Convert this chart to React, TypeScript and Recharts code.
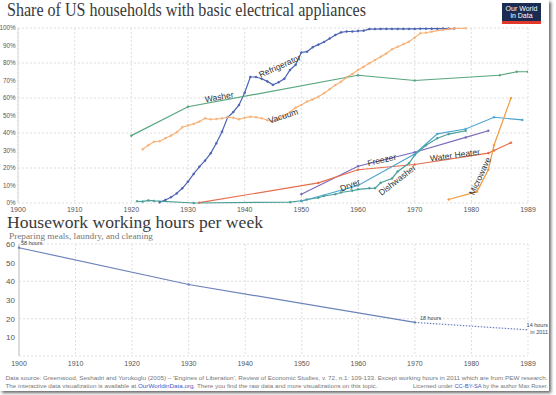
import { LineChart, Line, XAxis, YAxis, CartesianGrid, ReferenceDot } from "recharts";

const decadeTicks = [1900, 1910, 1920, 1930, 1940, 1950, 1960, 1970, 1980, 1990];
const shareTicks = [0, 10, 20, 30, 40, 50, 60, 70, 80, 90, 100];
const hourTicks = [10, 20, 30, 40, 50, 60];

// share of households (%) per appliance
const refrigeratorYears = [
  1925, 1926, 1927, 1928, 1929, 1930, 1931, 1932, 1933, 1934, 1935, 1936, 1937, 1938, 1939, 1940, 1941, 1942,
  1943, 1944, 1945, 1946, 1947, 1948, 1949, 1950, 1951, 1952, 1953, 1954, 1955, 1956, 1957, 1958, 1959, 1960,
  1961, 1962, 1963, 1964, 1965, 1966, 1967, 1968, 1969, 1970, 1971, 1972, 1973, 1974, 1975, 1976, 1977,
];
const refrigeratorShare = [
  0.4, 1.7, 3.3, 5.5, 8.4, 12.2, 16.6, 20.7, 24.2, 28.4, 34.1, 40.7, 49, 52, 56, 63, 72, 72, 71, 69.5, 67.5, 69,
  71, 76, 79, 86, 86.5, 89, 90.5, 92, 94, 96, 97.5, 98, 98, 98.3, 98.5, 99.4, 99.4, 99.5, 99.5, 99.5, 99.5, 99.5,
  99.5, 99.5, 99.6, 99.6, 99.6, 99.6, 99.7, 99.7, 99.7,
];

const vacuumYears = [
  1922, 1923, 1924, 1925, 1926, 1927, 1928, 1929, 1930, 1931, 1932, 1933, 1934, 1935, 1936, 1937, 1938, 1939,
  1940, 1941, 1942, 1943, 1944, 1945, 1946, 1947, 1948, 1949, 1950, 1951, 1952, 1953, 1954, 1955, 1956, 1957,
  1958, 1959, 1960, 1961, 1962, 1963, 1964, 1965, 1966, 1967, 1968, 1969, 1970, 1971, 1972, 1973, 1975, 1976,
  1977, 1979,
];
const vacuumShare = [
  30.7, 33, 35, 35.3, 37, 38.5, 40.4, 43.3, 44.3, 45.2, 46.5, 48.4, 47.8, 48, 48.4, 49, 48.7, 47.8, 48.7, 49.3,
  49, 48.4, 47.3, 46.5, 48, 50, 52, 54.5, 56, 58, 59.2, 60.7, 62.7, 65, 67.4, 69.3, 71.8, 73.7, 76, 77.9, 79.8,
  81.7, 83.6, 85.5, 87.8, 89.3, 90.7, 92.2, 94.5, 97, 97.3, 97.9, 98.9, 99.4, 99.8, 99.8,
];

const washerYears = [1920, 1930, 1960, 1970, 1985, 1988, 1990];
const washerShare = [38.5, 55, 73, 70, 73, 75, 75];

const freezerYears = [1950, 1960, 1965, 1970, 1979, 1983];
const freezerShare = [5, 21, 25, 29, 37.5, 41.3];

const waterHeaterYears = [1932, 1953, 1960, 1970, 1983, 1984, 1987];
const waterHeaterShare = [0.2, 11.5, 19, 22, 28.5, 30, 34.5];

const dryerYears = [1950, 1960, 1970, 1974, 1979, 1984, 1989];
const dryerShare = [1, 10, 28, 39.5, 42.3, 49, 47.5];

const dishwasherYears = [
  1921, 1922, 1923, 1924, 1931, 1948, 1950, 1951, 1953, 1954, 1956, 1957, 1959, 1960, 1962, 1963, 1964, 1966,
  1967, 1969, 1970, 1972, 1974, 1976, 1979,
];
const dishwasherShare = [
  1, 0.8, 1.5, 1.2, 0, 0.5, 1.3, 2, 3, 4, 5, 6, 7, 7.8, 8.4, 8.5, 11.6, 14, 18, 22.7, 27.4, 33, 37, 39.4, 41.3,
];

const microwaveYears = [1976, 1981, 1983, 1984, 1987];
const microwaveShare = [2, 6.5, 19, 33, 60];

// housework hours per week (last value is 2011, drawn at the right edge)
const hoursYears = [1900, 1930, 1970];
const hoursValues = [58, 38.3, 18];
const hoursLaterYears = [1970, 1990];
const hoursLaterValues = [18, 14];

const zip = (xs: number[], ys: number[]) => xs.map((year, i) => ({ year, value: ys[i] }));

const series = [
  { name: "Refrigerator", color: "#4a63b3", data: zip(refrigeratorYears, refrigeratorShare) },
  { name: "Vacuum", color: "#f7b37a", data: zip(vacuumYears, vacuumShare) },
  { name: "Washer", color: "#57a67e", data: zip(washerYears, washerShare) },
  { name: "Freezer", color: "#7b69bc", data: zip(freezerYears, freezerShare) },
  { name: "Water Heater", color: "#e76d4b", data: zip(waterHeaterYears, waterHeaterShare) },
  { name: "Dishwasher", color: "#4b9f97", data: zip(dishwasherYears, dishwasherShare) },
  { name: "Dryer", color: "#4fa5d0", data: zip(dryerYears, dryerShare) },
  { name: "Microwave", color: "#f39a3e", data: zip(microwaveYears, microwaveShare) },
];

const seriesLabels = [
  { text: "Refrigerator", year: 1946.2, value: 78.3, angle: -24 },
  { text: "Washer", year: 1935.5, value: 60.6, angle: -10 },
  { text: "Vacuum", year: 1946.8, value: 49.7, angle: -18 },
  { text: "Freezer", year: 1964.2, value: 24.6, angle: -13 },
  { text: "Dryer", year: 1958.6, value: 10.3, angle: -22 },
  { text: "Dishwasher", year: 1966.9, value: 13.1, angle: -38 },
  { text: "Water Heater", year: 1977.1, value: 27.4, angle: -8 },
  { text: "Microwave", year: 1981.5, value: 15.4, angle: -65 },
];

const sans = "'Liberation Sans', Arial, sans-serif";
const serif = "'Liberation Serif', 'Times New Roman', serif";
const gridColor = "#dedede";
const yearLabel = (v: number) => (v === 1990 ? "1989" : String(v));

export default function App() {
  return (
    <div style={{ position: "absolute", left: 0, top: 0, width: 556, height: 395, background: "#fff" }}>
      <div
        style={{
          position: "absolute",
          left: 0,
          top: 0,
          width: 549,
          height: 391,
          background: "#fff",
          boxShadow: "2px 2px 3px rgba(0,0,0,0.6)",
        }}
      />

      <div style={{ position: "absolute", left: 0, top: 0 }}>
        <LineChart width={556} height={220} margin={{ top: 28, right: 28, left: 0, bottom: 3 }}>
          <CartesianGrid stroke={gridColor} strokeDasharray="2 2" />
          <XAxis
            type="number"
            dataKey="year"
            domain={[1900, 1990]}
            ticks={decadeTicks}
            tickFormatter={yearLabel}
            height={14}
            tickSize={2}
            tickLine={false}
            axisLine={false}
            tick={{ fontSize: 7, fill: "#555", fontFamily: sans }}
            allowDataOverflow
          />
          <YAxis
            type="number"
            domain={[0, 100]}
            ticks={shareTicks}
            tickFormatter={(v: number) => `${v}%`}
            width={18}
            tickSize={0.5}
            tickLine={false}
            axisLine={{ stroke: "#d8d8d8" }}
            tick={{ fontSize: 6.3, fill: "#555", fontFamily: sans }}
          />
          {series.map((s) => (
            <Line
              key={s.name}
              data={s.data}
              dataKey="value"
              type="linear"
              stroke={s.color}
              strokeWidth={1.2}
              dot={{ r: 1, fill: s.color, stroke: s.color, strokeWidth: 0.5 }}
              isAnimationActive={false}
            />
          ))}
          {seriesLabels.map((l) => (
            <ReferenceDot
              key={l.text}
              x={l.year}
              y={l.value}
              r={0}
              shape={(p: any) => (
                <text
                  x={p.cx}
                  y={p.cy}
                  transform={`rotate(${l.angle} ${p.cx} ${p.cy})`}
                  textAnchor="middle"
                  dominantBaseline="central"
                  fontSize={8.5}
                  fontFamily={sans}
                  fill="#333"
                >
                  {l.text}
                </text>
              )}
            />
          ))}
        </LineChart>
      </div>

      <div style={{ position: "absolute", left: 0, top: 230 }}>
        <LineChart width={556} height={143} margin={{ top: 14, right: 28, left: 0, bottom: 3 }}>
          <CartesianGrid stroke={gridColor} strokeDasharray="2 2" />
          <XAxis
            type="number"
            dataKey="year"
            domain={[1900, 1990]}
            ticks={decadeTicks}
            tickFormatter={yearLabel}
            height={14}
            tickSize={3}
            tickLine={false}
            axisLine={false}
            tick={{ fontSize: 7, fill: "#555", fontFamily: sans }}
          />
          <YAxis
            type="number"
            domain={[0, 60]}
            ticks={hourTicks}
            width={19}
            tickSize={2}
            tickLine={false}
            axisLine={{ stroke: "#dcdcdc", strokeWidth: 2 }}
            tick={{ fontSize: 8, fill: "#555", fontFamily: sans }}
          />
          <Line
            data={zip(hoursYears, hoursValues)}
            dataKey="value"
            type="linear"
            stroke="#6c83ba"
            strokeWidth={1.2}
            dot={{ r: 1.2, fill: "#6c83ba", stroke: "none" }}
            isAnimationActive={false}
          />
          <Line
            data={zip(hoursLaterYears, hoursLaterValues)}
            dataKey="value"
            type="linear"
            stroke="#6c83ba"
            strokeWidth={1.2}
            strokeDasharray="1.5 1.5"
            dot={false}
            isAnimationActive={false}
          />
          <ReferenceDot
            x={1900}
            y={58}
            r={0}
            shape={(p: any) => (
              <text x={p.cx + 2} y={p.cy - 3} fontSize={5.5} fontFamily={sans} fill="#444">
                58 hours
              </text>
            )}
          />
          <ReferenceDot
            x={1970}
            y={18}
            r={0}
            shape={(p: any) => (
              <text x={p.cx + 5} y={p.cy - 2} fontSize={5.5} fontFamily={sans} fill="#444">
                18 hours
              </text>
            )}
          />
          <ReferenceDot
            x={1990}
            y={14}
            r={0}
            ifOverflow="visible"
            shape={(p: any) => (
              <text x={p.cx + 20} y={p.cy - 3} fontSize={5.5} fontFamily={sans} fill="#444" textAnchor="end">
                <tspan x={p.cx + 20}>14 hours</tspan>
                <tspan x={p.cx + 20} dy={7.5}>in 2011</tspan>
              </text>
            )}
          />
        </LineChart>
      </div>

      <svg width={556} height={395} style={{ position: "absolute", left: 0, top: 0, pointerEvents: "none" }}>
        <text x={7} y={15.5} fontFamily={serif} fontSize={18} fill="#3a3a3a" textLength={359} lengthAdjust="spacingAndGlyphs">
          Share of US households with basic electrical appliances
        </text>
        <text x={7} y={227.5} fontFamily={serif} fontSize={16.5} fill="#3a3a3a" textLength={256} lengthAdjust="spacingAndGlyphs">
          Housework working hours per week
        </text>
        <text x={9} y={239} fontFamily={serif} fontSize={8.5} fill="#777" textLength={144} lengthAdjust="spacingAndGlyphs">
          Preparing meals, laundry, and cleaning
        </text>

        <rect x={502} y={3} width={39} height={21} fill="#1b2b52" />
        <rect x={502} y={21} width={39} height={3} fill="#e0382d" />
        <text x={521.5} y={10.5} textAnchor="middle" fontFamily={sans} fontSize={7} fill="#fff">
          Our World
        </text>
        <text x={521.5} y={18} textAnchor="middle" fontFamily={sans} fontSize={7} fill="#fff">
          in Data
        </text>

        <text x={5.5} y={379.5} fontFamily={sans} fontSize={5.9} fill="#777" textLength={542} lengthAdjust="spacingAndGlyphs">
          Data source: Greenwood, Seshadri and Yorukoglu (2005) – 'Engines of Liberation', Review of Economic Studies, v. 72,
          n.1: 109-133. Except working hours in 2011 which are from PEW research.
        </text>
        <text x={5.5} y={387.5} fontFamily={sans} fontSize={5.6} fill="#777" textLength={372} lengthAdjust="spacingAndGlyphs">
          The interactive data visualization is available at <tspan fill="#3d5bc4">OurWorldinData.org</tspan>. There you
          find the raw data and more visualizations on this topic.
        </text>
        <text x={548} y={387.5} fontFamily={sans} fontSize={5.6} fill="#777" textAnchor="end" textLength={135} lengthAdjust="spacingAndGlyphs">
          Licensed under <tspan fill="#3d5bc4">CC-BY-SA</tspan> by the author Max Roser.
        </text>
      </svg>
    </div>
  );
}
